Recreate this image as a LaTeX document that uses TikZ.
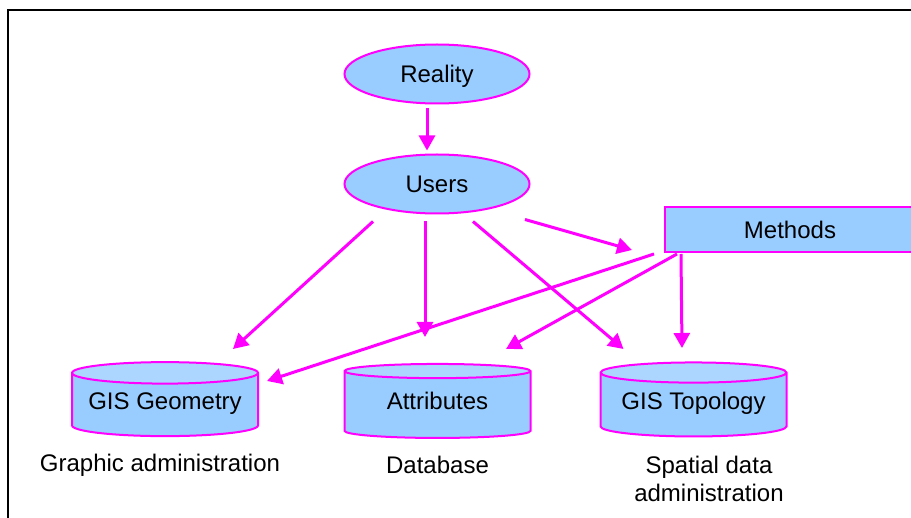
\documentclass[tikz,border=0pt]{standalone}
\usepackage{fontspec}
\setmainfont{Liberation Sans}
\usetikzlibrary{shapes.geometric, arrows.meta, calc}

\definecolor{gismag}{RGB}{255,0,255}
\definecolor{gisblue}{RGB}{153,204,255}
\definecolor{gistop}{RGB}{172,214,255}

\begin{document}
\begin{tikzpicture}[
  x=0.5pt, y=-0.5pt,
  oval/.style={ellipse, draw=gismag, line width=1pt, fill=gisblue,
               minimum width=92.5pt, minimum height=29.5pt, inner sep=0pt,
               text height=8.6pt, text depth=0pt,
               font=\fontsize{12}{14}\selectfont},
  store/.style={cylinder, shape border rotate=90, draw=gismag, line width=1pt,
                cylinder uses custom fill, cylinder body fill=gisblue,
                cylinder end fill=gistop, aspect=0.14,
                minimum width=93pt, minimum height=37pt, inner sep=0pt,
                text height=8.6pt, text depth=4pt,
                font=\fontsize{12}{14}\selectfont},
  methodbox/.style={rectangle, draw=gismag, line width=1pt, fill=gisblue,
                    minimum width=125pt, minimum height=22.5pt,
                    font=\fontsize{12}{14}\selectfont},
  caption/.style={align=center, font=\fontsize{12}{14}\selectfont},
  arrow/.style={-{Triangle[length=7.5pt,width=8pt]}, draw=gismag, line width=1.5pt}
]
\clip (0,0) rectangle (911,518);

% outer frame, only its top and left edges are inside the page
\draw[line width=1pt] (7.5,518) -- (7.5,10.5) -- (911,10.5);

\node[oval] (reality) at (437,74) {Reality};
\node[oval] (users) at (437,184) {Users};
\node[methodbox] (methods) at (790,229.5) {Methods};

\node[store] (geom) at (165,405) {GIS Geometry};
\node[store] (attr) at (437.5,405) {Attributes};
\node[store] (topo) at (693.5,405) {GIS Topology};

\node[caption] (geomcap) at (160,465) {Graphic administration};
\node[caption] (attrcap) at (437.5,465) {Database};
\node[caption] (topocap) at (709,479) {Spatial data\\administration};

\draw[arrow] ($(reality.south)+(-10,4)$) -- ($(users.north)+(-10,-3)$);
\draw[arrow] ($(users.south)+(-64,7)$) -- ($(geom.center)+(68,-56)$);
\draw[arrow] ($(users.south)+(-12,7)$) -- ($(attr.center)+(-12.5,-68)$);
\draw[arrow] ($(users.south)+(36,7)$) -- ($(topo.center)+(-70,-56)$);
\draw[arrow] ($(users.south)+(88,5)$) -- ($(methods.west)+(-32,20.5)$);
\draw[arrow] ($(methods.south west)+(-10,1)$) -- ($(geom.center)+(102,-24)$);
\draw[arrow] ($(methods.south west)+(13,1)$) -- ($(attr.center)+(68.5,-56)$);
\draw[arrow] ($(methods.south west)+(17,1)$) -- ($(topo.center)+(-11.5,-57)$);

\end{tikzpicture}
\end{document}
